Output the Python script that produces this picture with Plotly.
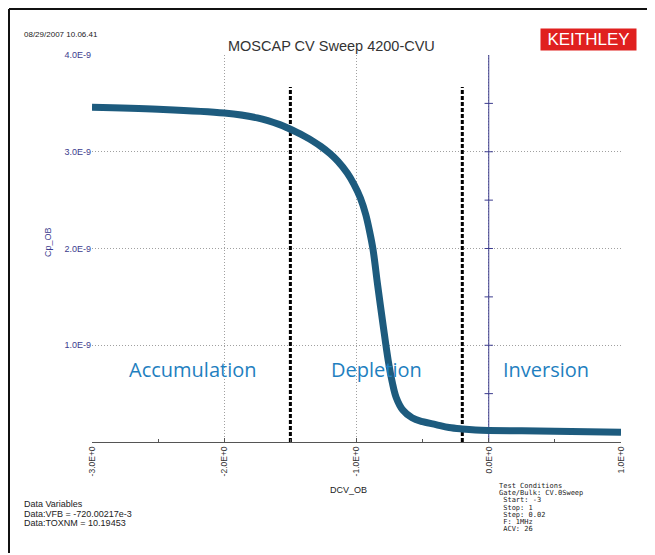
import plotly.graph_objects as go

# ---- data ----
dcv = [-3.0, -2.5, -2.0, -1.75, -1.58, -1.52, -1.45, -1.40, -1.33, -1.27, -1.20,
       -1.14, -1.07, -1.02, -0.97, -0.93, -0.90, -0.875, -0.84, -0.80, -0.76,
       -0.73, -0.70, -0.65, -0.58, -0.50, -0.40, -0.30, -0.20, -0.10, 0.0, 0.25,
       0.5, 0.75, 1.0]
cp = [3.46e-9, 3.44e-9, 3.40e-9, 3.35e-9, 3.28e-9, 3.245e-9, 3.20e-9, 3.165e-9,
      3.11e-9, 3.055e-9, 2.98e-9, 2.90e-9, 2.78e-9, 2.665e-9, 2.52e-9, 2.35e-9,
      2.17e-9, 1.99e-9, 1.62e-9, 1.22e-9, 0.84e-9, 0.62e-9, 0.46e-9, 0.33e-9,
      0.25e-9, 0.21e-9, 0.18e-9, 0.15e-9, 0.135e-9, 0.125e-9, 0.12e-9, 0.115e-9,
      0.11e-9, 0.105e-9, 0.10e-9]

x_ticks = [-3, -2, -1, 0, 1]
x_tick_labels = ["-3.0E+0", "-2.0E+0", "-1.0E+0", "0.0E+0", "1.0E+0"]
y_ticks = [1e-9, 2e-9, 3e-9, 4e-9]
y_tick_labels = ["1.0E-9", "2.0E-9", "3.0E-9", "4.0E-9"]

region_boundaries = [-1.5, -0.2]
boundary_top = 3.67e-9
region_names = ["Accumulation", "Depletion", "Inversion"]
region_x = [-2.24, -0.85, 0.43]
region_y = 0.75e-9

zero_axis_ticks = [0.5e-9, 1.0e-9, 1.5e-9, 2.0e-9, 2.5e-9, 3.0e-9, 3.5e-9]

data_vars = ["Data Variables", "Data:VFB = -720.00217e-3", "Data:TOXNM = 10.19453"]
test_conditions = ["Test Conditions", "Gate/Bulk: CV.0Sweep", " Start: -3",
                   " Stop: 1", " Step: 0.02", " F: 1MHz", " ACV: 26"]

# ---- geometry (screen pixels; page body has an 8px margin) ----
OFF = 8
L, R, T, B = 92, 621, 55, 442
W, H = 655 - OFF, 555 - OFF
def px(x):
    return (x - L) / (R - L)
def py(y):
    return (B - y) / (B - T)

fig = go.Figure()

# boundaries (dashed)
for xb in region_boundaries:
    fig.add_trace(go.Scatter(x=[xb, xb], y=[0, boundary_top], mode="lines",
                             line=dict(color="black", width=3, dash="4px,2px"),
                             hoverinfo="skip", showlegend=False))

# zero axis vertical line with ticks
fig.add_trace(go.Scatter(x=[0, 0], y=[0, 4e-9], mode="lines",
                         line=dict(color="#3c3c8e", width=1),
                         hoverinfo="skip", showlegend=False))
fig.add_trace(go.Scatter(x=[0] * len(zero_axis_ticks), y=zero_axis_ticks, mode="markers",
                         marker=dict(symbol="line-ew", size=6,
                                     line=dict(color="#3c3c8e", width=1)),
                         hoverinfo="skip", showlegend=False))

# CV curve
fig.add_trace(go.Scatter(x=dcv, y=cp, mode="lines",
                         line=dict(color="#1d5b7e", width=7, shape="spline", smoothing=1.0),
                         showlegend=False))

annotations = []
for name, xr in zip(region_names, region_x):
    annotations.append(dict(x=xr, y=region_y, xref="x", yref="y", text=name,
                            showarrow=False, xanchor="center", yanchor="middle",
                            font=dict(family="Open Sans", size=20, color="#1f7fc0")))

def note(x, y, text, size, color="#222222", family="Liberation Sans",
         xanchor="center", **kw):
    annotations.append(dict(x=px(x), y=py(y), xref="paper", yref="paper",
                            xanchor=xanchor, yanchor="middle", text=text,
                            showarrow=False,
                            font=dict(family=family, size=size, color=color), **kw))

note(331, 46, "MOSCAP CV Sweep 4200-CVU", 14.5, color="#333333")
note(22, 35, "08/29/2007 10.06.41", 8, xanchor="left")
note(588.5, 39.5, "KEITHLEY", 17, color="white", bgcolor="#e0201f",
     width=93, height=19, borderpad=1)
note(348, 490, "DCV_OB", 9)
note(48, 242, "Cp_OB", 9, color="#3c3c8e", textangle=-90)
for i, t in enumerate(data_vars):
    note(22, 504 + 9.5 * i, t, 9, xanchor="left")
for i, t in enumerate(test_conditions):
    note(497, 486 + 7.2 * i, t.replace(" ", "&nbsp;"), 7, family="DejaVu Sans Mono",
         xanchor="left")

shapes = [
    dict(type="line", xref="paper", yref="paper", x0=px(9), x1=px(648),
         y0=py(9), y1=py(9), line=dict(color="#111111", width=2)),
    dict(type="line", xref="paper", yref="paper", x0=px(9), x1=px(9),
         y0=py(9), y1=py(553), line=dict(color="#111111", width=2)),
]

fig.update_layout(
    width=W, height=H,
    margin=dict(l=L - OFF, r=(655 - OFF) - (R - OFF), t=T - OFF, b=(555 - OFF) - (B - OFF)),
    plot_bgcolor="white", paper_bgcolor="white",
    annotations=annotations, shapes=shapes,
    xaxis=dict(range=[-3, 1], tickvals=x_ticks, ticktext=x_tick_labels,
               tickangle=-90, showgrid=True, gridcolor="#a0a0a0", griddash="1px,2px",
               gridwidth=1, zeroline=False, showline=True, linecolor="#555555",
               linewidth=1, ticks="inside", ticklen=4, tickcolor="#555555",
               minor=dict(dtick=0.5, ticks="inside", ticklen=3, tickcolor="#555555",
                          showgrid=False),
               tickfont=dict(family="Liberation Sans", size=8.5, color="#333333")),
    yaxis=dict(range=[0, 4e-9], tickvals=y_ticks, ticktext=y_tick_labels,
               showgrid=True, gridcolor="#a0a0a0", griddash="1px,2px", gridwidth=1,
               zeroline=False, showline=False, ticks="",
               tickfont=dict(family="Liberation Sans", size=9, color="#3c3c8e")),
)

fig.write_html("out.html")
